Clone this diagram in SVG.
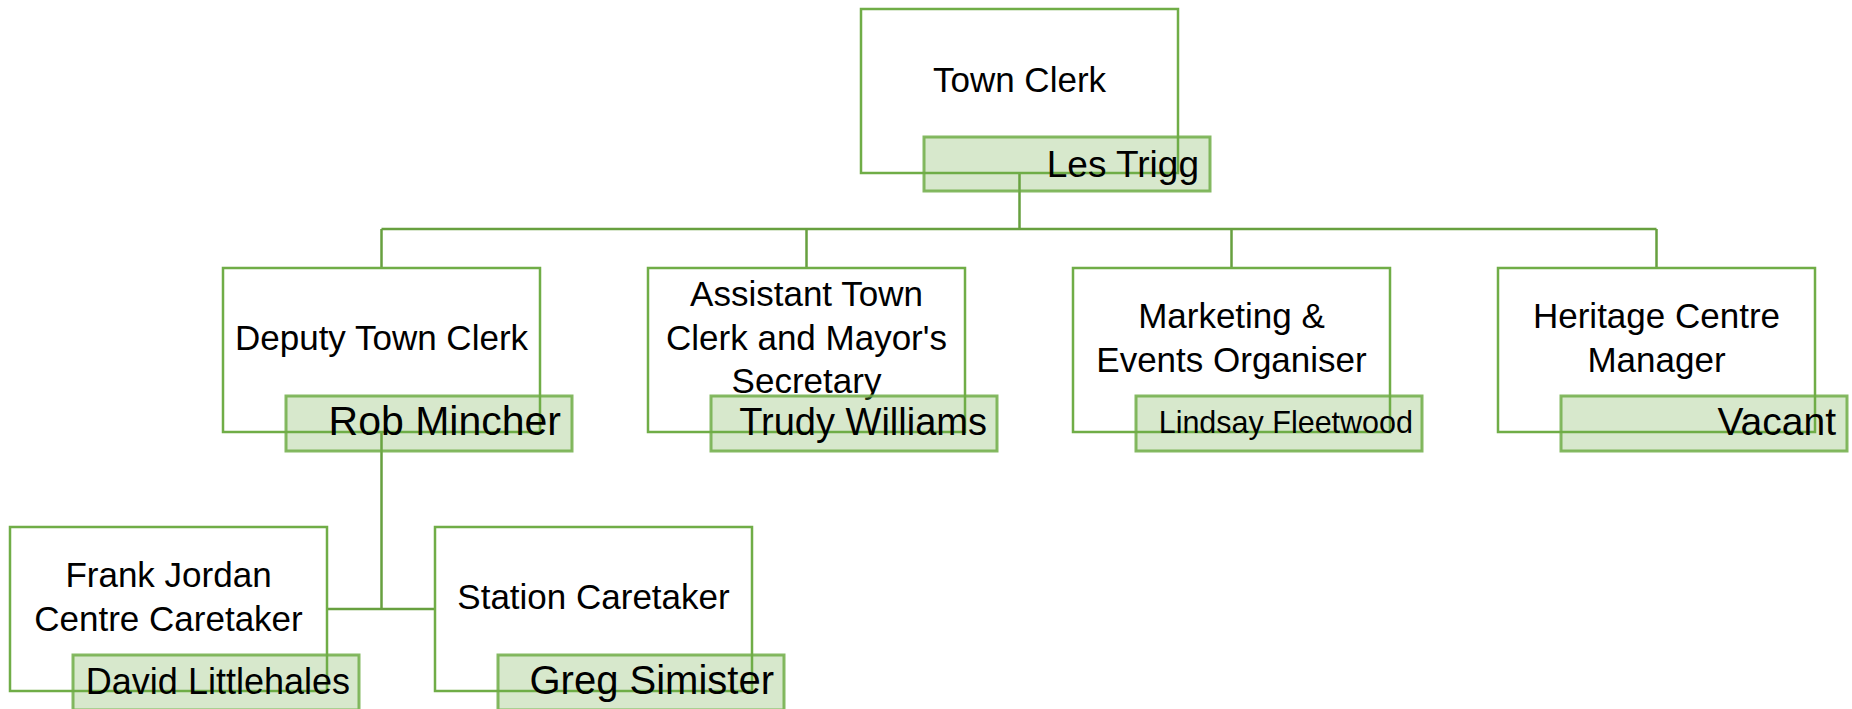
<svg xmlns="http://www.w3.org/2000/svg" width="1852" height="709" viewBox="0 0 1852 709">
<style>
.bg{fill:#ffffff}
.title{fill:#ffffff;stroke:#70AD47;stroke-width:2.5}
.name{fill:#70AD47;fill-opacity:0.28;stroke:#70AD47;stroke-opacity:0.85;stroke-width:3}
.conn{fill:none;stroke:#67A03F;stroke-width:2.5}
text{font-family:"Liberation Sans",Arial,sans-serif;fill:#000000}
.t{font-size:35px;text-anchor:middle}
.n{text-anchor:end}
</style>
<rect class="bg" x="0" y="0" width="1852" height="709"/>
<g id="connectors">
<path class="conn" d="M1019.5 173 V229 M381.5 229 H1656.5 M381.5 229 V268 M806.5 229 V268 M1231.5 229 V268 M1656.5 229 V268"/>
<path class="conn" d="M381.5 432 V609 M327 609 H435"/>
</g>
<g id="town-clerk">
<rect class="title" x="861" y="9" width="317" height="164"/>
<text class="t" x="1019.5" y="92">Town Clerk</text>
<rect class="name" x="924" y="137" width="286" height="54"/>
<text class="n" x="1199" y="177" font-size="37">Les Trigg</text>
</g>
<g id="deputy-town-clerk">
<rect class="title" x="223" y="268" width="317" height="164"/>
<text class="t" x="381.5" y="350">Deputy Town Clerk</text>
<rect class="name" x="286" y="396" width="286" height="55"/>
<text class="n" x="561" y="435" font-size="41">Rob Mincher</text>
</g>
<g id="assistant-town-clerk">
<rect class="title" x="648" y="268" width="317" height="164"/>
<text class="t" x="806.5" y="306">Assistant Town</text>
<text class="t" x="806.5" y="350">Clerk and Mayor's</text>
<text class="t" x="806.5" y="393">Secretary</text>
<rect class="name" x="711" y="396" width="286" height="55"/>
<text class="n" x="987" y="435" font-size="38">Trudy Williams</text>
</g>
<g id="marketing-events">
<rect class="title" x="1073" y="268" width="317" height="164"/>
<text class="t" x="1231.5" y="328">Marketing &amp;</text>
<text class="t" x="1231.5" y="372">Events Organiser</text>
<rect class="name" x="1136" y="396" width="286" height="55"/>
<text class="n" x="1413" y="433" font-size="30.5">Lindsay Fleetwood</text>
</g>
<g id="heritage-centre">
<rect class="title" x="1498" y="268" width="317" height="164"/>
<text class="t" x="1656.5" y="328">Heritage Centre</text>
<text class="t" x="1656.5" y="372">Manager</text>
<rect class="name" x="1561" y="396" width="286" height="55"/>
<text class="n" x="1836" y="435" font-size="39">Vacant</text>
</g>
<g id="frank-jordan-caretaker">
<rect class="title" x="10" y="527" width="317" height="164"/>
<text class="t" x="168.5" y="587">Frank Jordan</text>
<text class="t" x="168.5" y="631">Centre Caretaker</text>
<rect class="name" x="73" y="655" width="286" height="55"/>
<text class="n" x="350" y="694" font-size="36">David Littlehales</text>
</g>
<g id="station-caretaker">
<rect class="title" x="435" y="527" width="317" height="164"/>
<text class="t" x="593.5" y="609">Station Caretaker</text>
<rect class="name" x="498" y="655" width="286" height="55"/>
<text class="n" x="774" y="694" font-size="40">Greg Simister</text>
</g>
</svg>
